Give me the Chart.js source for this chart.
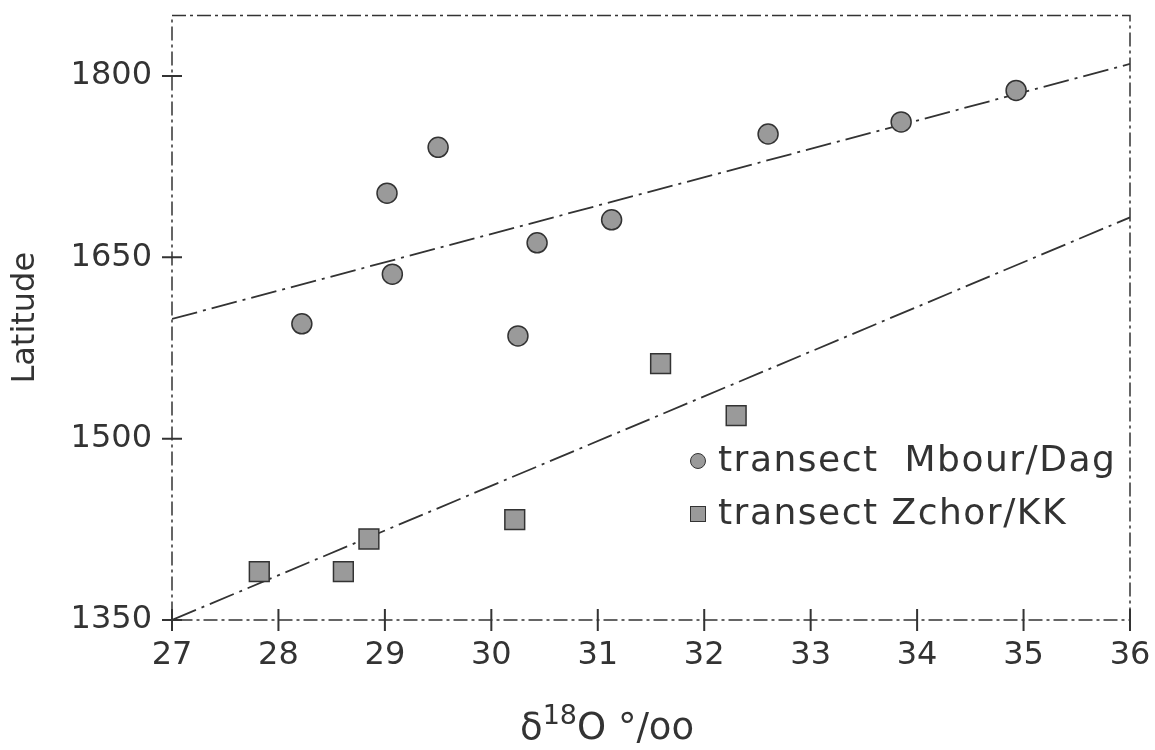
<!DOCTYPE html>
<html>
<head>
<meta charset="utf-8">
<script src="https://cdn.jsdelivr.net/npm/chart.js@4.4.0/dist/chart.umd.min.js"></script>
<style>
    html, body { margin: 0; padding: 0; background: #fff; }
    #wrap { position: relative; width: 1155px; height: 750px; font-family: 'DejaVu Sans', sans-serif; color: #333; }
    #chart { position: absolute; left: 0; top: 0; }
    .legend-row { position: absolute; left: 690px; height: 40px; line-height: 40px; font-size: 36px; letter-spacing: 1.5px; white-space: pre; }
    .mk { display: inline-block; width: 16px; height: 16px; background: #9a9a9a; border: 1.5px solid #333; box-sizing: border-box; margin-right: 12px; vertical-align: middle; }
    .mk.circle { border-radius: 50%; }
    #xtitle { position: absolute; left: 520px; top: 707px; height: 40px; line-height: 40px; font-size: 37px; white-space: pre; }
    #xtitle .sup { position: relative; top: -15px; font-size: 27px; }
</style>
</head>
<body>
<div id="wrap">
    <canvas id="chart" width="1155" height="750"></canvas>
    <div class="legend-row" style="top: 439px;"><span class="mk circle"></span>transect  Mbour/Dag</div>
    <div class="legend-row" style="top: 492px;"><span class="mk"></span>transect Zchor/KK</div>
    <div id="xtitle">δ<span class="sup">18</span>O °/oo</div>
</div>
<script>
// axis ticks
const xTicks = [27, 28, 29, 30, 31, 32, 33, 34, 35, 36];
const yTicks = [1350, 1500, 1650, 1800];

// transect Mbour/Dag (circles)
const mbourX = [28.22, 29.02, 29.07, 29.50, 30.25, 30.43, 31.13, 32.60, 33.85, 34.93];
const mbourY = [1595, 1703, 1636, 1741, 1585, 1662, 1681, 1752, 1762, 1788];

// transect Zchor/KK (squares)
const zchorX = [27.82, 28.61, 28.85, 30.22, 31.59, 32.30];
const zchorY = [1390, 1390, 1417, 1433, 1562, 1519];

// fitted lines, read at both ends of the x axis
const fitX = [27, 36];
const mbourFitY = [1599, 1810];
const zchorFitY = [1350, 1683];

const toPoints = (xs, ys) => xs.map((x, i) => ({ x: x, y: ys[i] }));
const ink = '#333';

// dashed frame + ticks that cross the axes
const framePlugin = {
    id: 'frame',
    beforeDatasetsDraw(chart) {
        const { ctx, chartArea: a, scales } = chart;
        ctx.save();
        ctx.strokeStyle = ink;
        ctx.lineWidth = 1.5;
        ctx.setLineDash([14, 4, 3, 4]);
        ctx.strokeRect(a.left, a.top, a.right - a.left, a.bottom - a.top);
        ctx.setLineDash([]);
        ctx.lineWidth = 2;
        ctx.beginPath();
        xTicks.forEach(v => {
            const px = scales.x.getPixelForValue(v);
            ctx.moveTo(px, a.bottom - 11);
            ctx.lineTo(px, a.bottom + 11);
        });
        yTicks.forEach(v => {
            const py = scales.y.getPixelForValue(v);
            ctx.moveTo(a.left - 10, py);
            ctx.lineTo(a.left + 10, py);
        });
        ctx.stroke();
        ctx.restore();
    }
};

const tickFont = { family: 'DejaVu Sans', size: 32 };

new Chart(document.getElementById('chart'), {
    type: 'scatter',
    data: {
        datasets: [
            {
                label: 'transect Mbour/Dag',
                data: toPoints(mbourX, mbourY),
                pointStyle: 'circle',
                pointRadius: 10,
                backgroundColor: '#9a9a9a',
                borderColor: ink,
                borderWidth: 1.5,
                order: 1
            },
            {
                label: 'transect Zchor/KK',
                data: toPoints(zchorX, zchorY),
                pointStyle: 'rect',
                pointRadius: 14,
                backgroundColor: '#9a9a9a',
                borderColor: ink,
                borderWidth: 1.5,
                order: 1
            },
            {
                type: 'line',
                label: 'fit Mbour/Dag',
                data: toPoints(fitX, mbourFitY),
                showLine: true,
                pointRadius: 0,
                borderColor: ink,
                borderWidth: 1.8,
                borderDash: [26, 6, 3, 6],
                fill: false,
                order: 2
            },
            {
                type: 'line',
                label: 'fit Zchor/KK',
                data: toPoints(fitX, zchorFitY),
                showLine: true,
                pointRadius: 0,
                borderColor: ink,
                borderWidth: 1.8,
                borderDash: [26, 6, 3, 6],
                fill: false,
                order: 2
            }
        ]
    },
    options: {
        responsive: false,
        animation: false,
        layout: { padding: { top: 13, right: 25, left: 0, bottom: 0 } },
        plugins: {
            legend: { display: false },
            tooltip: { enabled: false }
        },
        scales: {
            x: {
                type: 'linear',
                min: 27,
                max: 36,
                afterBuildTicks: s => { s.ticks = xTicks.map(v => ({ value: v })); },
                afterFit: s => { s.height = 130; s.paddingLeft = 0; s.paddingRight = 0; },
                grid: { display: false, drawTicks: false },
                border: { display: false },
                ticks: { font: tickFont, color: ink, padding: 16, maxRotation: 0, callback: v => String(v) }
            },
            y: {
                type: 'linear',
                min: 1350,
                max: 1850,
                afterBuildTicks: s => { s.ticks = yTicks.map(v => ({ value: v })); },
                afterFit: s => { s.width = 172; s.paddingTop = 0; s.paddingBottom = 0; },
                grid: { display: false, drawTicks: false },
                border: { display: false },
                ticks: { font: tickFont, color: ink, padding: 20, callback: v => String(v) },
                title: {
                    display: true,
                    text: 'Latitude',
                    font: { family: 'DejaVu Sans', size: 32 },
                    color: ink,
                    padding: { top: 6, bottom: 0 }
                }
            }
        }
    },
    plugins: [framePlugin]
});
</script>
</body>
</html>
